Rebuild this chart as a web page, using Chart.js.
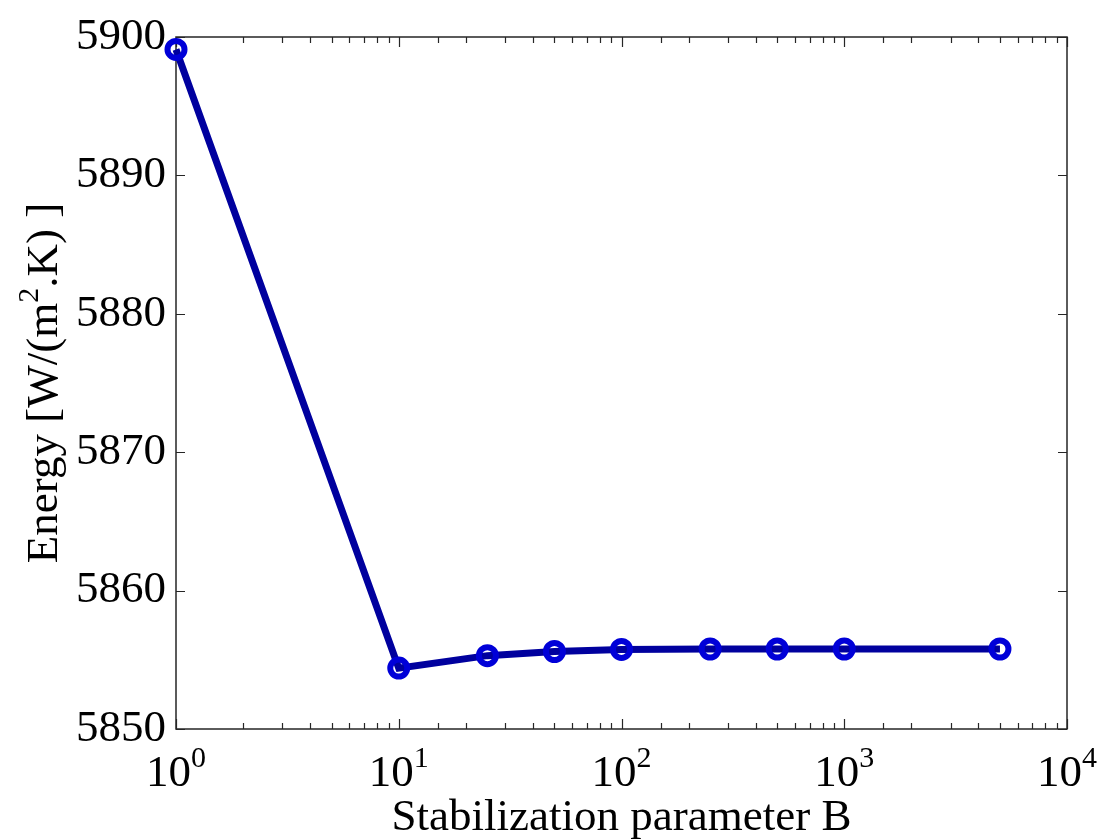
<!DOCTYPE html>
<html>
<head>
<meta charset="utf-8">
<script src="https://cdn.jsdelivr.net/npm/chart.js@4/dist/chart.umd.min.js"></script>
<style>
  html, body { margin: 0; padding: 0; background: #fff; }
  #wrap { width: 1099px; height: 840px; position: relative; }
</style>
</head>
<body>
<div id="wrap"><canvas id="grafico"></canvas></div>
<script>
// valores
const parametroB = [1, 10, 25, 50, 100, 250, 500, 1000, 5000];
const energia = [5899.1, 5854.4, 5855.3, 5855.6, 5855.75, 5855.78, 5855.78, 5855.78, 5855.78];
const yTicks = [5850, 5860, 5870, 5880, 5890, 5900];
const xDecadas = [0, 1, 2, 3, 4];

const tituloX = "Stabilization parameter B";
const tituloY = ["Energy [W/(m", "2", ".K) ]"];

const FONTE = "Liberation Serif, Times New Roman, serif";
const TAM = 45;
const TAM_SUP = 30;

const eixosPlugin = {
    id: "eixos",
    beforeDatasetsDraw(chart) {
        const ctx = chart.ctx;
        const a = chart.chartArea;
        const sx = chart.scales.x;
        const sy = chart.scales.y;

        ctx.save();
        ctx.strokeStyle = "#262626";
        ctx.lineWidth = 1.5;
        ctx.strokeRect(a.left, a.top, a.right - a.left, a.bottom - a.top);

        ctx.lineWidth = 1.2;
        ctx.beginPath();
        // ticks do eixo x (log), maiores e menores
        sx.ticks.forEach(t => {
            const v = t.value;
            if (v < 1 || v > 10000) return;
            const lg = Math.log10(v);
            const maior = Math.abs(lg - Math.round(lg)) < 1e-9;
            const len = maior ? 10 : 6;
            const px = Math.round(sx.getPixelForValue(v)) + 0.5;
            ctx.moveTo(px, a.bottom);
            ctx.lineTo(px, a.bottom - len);
            ctx.moveTo(px, a.top);
            ctx.lineTo(px, a.top + len);
        });
        // ticks do eixo y
        yTicks.forEach(v => {
            const py = Math.round(sy.getPixelForValue(v)) + 0.5;
            ctx.moveTo(a.left, py);
            ctx.lineTo(a.left + 9, py);
            ctx.moveTo(a.right, py);
            ctx.lineTo(a.right - 9, py);
        });
        ctx.stroke();
        ctx.restore();
    },
    afterDraw(chart) {
        const ctx = chart.ctx;
        const a = chart.chartArea;
        const sx = chart.scales.x;

        ctx.save();
        ctx.fillStyle = "#000";
        ctx.textBaseline = "alphabetic";

        // rotulos 10^n
        xDecadas.forEach(n => {
            const px = sx.getPixelForValue(Math.pow(10, n));
            ctx.font = TAM + "px " + FONTE;
            const wBase = ctx.measureText("10").width;
            ctx.font = TAM_SUP + "px " + FONTE;
            const wSup = ctx.measureText(String(n)).width;
            const x0 = px - (wBase + wSup) / 2;
            ctx.font = TAM + "px " + FONTE;
            ctx.textAlign = "left";
            ctx.fillText("10", x0, 786);
            ctx.font = TAM_SUP + "px " + FONTE;
            ctx.fillText(String(n), x0 + wBase, 767);
        });

        // titulo x
        ctx.font = TAM + "px " + FONTE;
        ctx.textAlign = "center";
        ctx.fillText(tituloX, (a.left + a.right) / 2, 830);

        // titulo y (girado, com expoente)
        ctx.translate(57, (a.top + a.bottom) / 2);
        ctx.rotate(-Math.PI / 2);
        ctx.font = TAM + "px " + FONTE;
        const w1 = ctx.measureText(tituloY[0]).width;
        const w3 = ctx.measureText(tituloY[2]).width;
        ctx.font = TAM_SUP + "px " + FONTE;
        const w2 = ctx.measureText(tituloY[1]).width;
        let x = -(w1 + w2 + w3) / 2;
        ctx.textAlign = "left";
        ctx.font = TAM + "px " + FONTE;
        ctx.fillText(tituloY[0], x, 0);
        x += w1;
        ctx.font = TAM_SUP + "px " + FONTE;
        ctx.fillText(tituloY[1], x, -19);
        x += w2;
        ctx.font = TAM + "px " + FONTE;
        ctx.fillText(tituloY[2], x, 0);
        ctx.restore();
    }
};

const ctx = document.getElementById("grafico").getContext("2d");

const grafico = new Chart(ctx, {
    type: "line",
    data: {
        datasets: [{
            data: parametroB.map((b, i) => ({ x: b, y: energia[i] })),
            borderColor: "#00009e",
            borderWidth: 7,
            pointRadius: 8.5,
            pointBorderWidth: 6,
            pointBorderColor: "#0000d8",
            pointBackgroundColor: "rgba(255,255,255,0)",
            tension: 0,
            clip: false
        }]
    },
    options: {
        responsive: true,
        maintainAspectRatio: false,
        animation: false,
        events: [],
        layout: {
            padding: { top: 24, right: 32, left: 0, bottom: 0 }
        },
        plugins: {
            legend: { display: false },
            tooltip: { enabled: false }
        },
        scales: {
            x: {
                type: "logarithmic",
                min: 1,
                max: 10000,
                grid: { display: false, drawTicks: false },
                border: { display: false },
                ticks: { display: false },
                afterFit(scale) { scale.height = 111; }
            },
            y: {
                type: "linear",
                min: 5850,
                max: 5900,
                grid: { display: false, drawTicks: false },
                border: { display: false },
                afterBuildTicks(scale) {
                    scale.ticks = yTicks.map(v => ({ value: v }));
                },
                ticks: {
                    padding: 10,
                    color: "#000",
                    font: { family: FONTE, size: TAM },
                    callback: v => String(v)
                },
                afterFit(scale) { scale.width = 176; }
            }
        }
    },
    plugins: [eixosPlugin]
});
</script>
</body>
</html>
